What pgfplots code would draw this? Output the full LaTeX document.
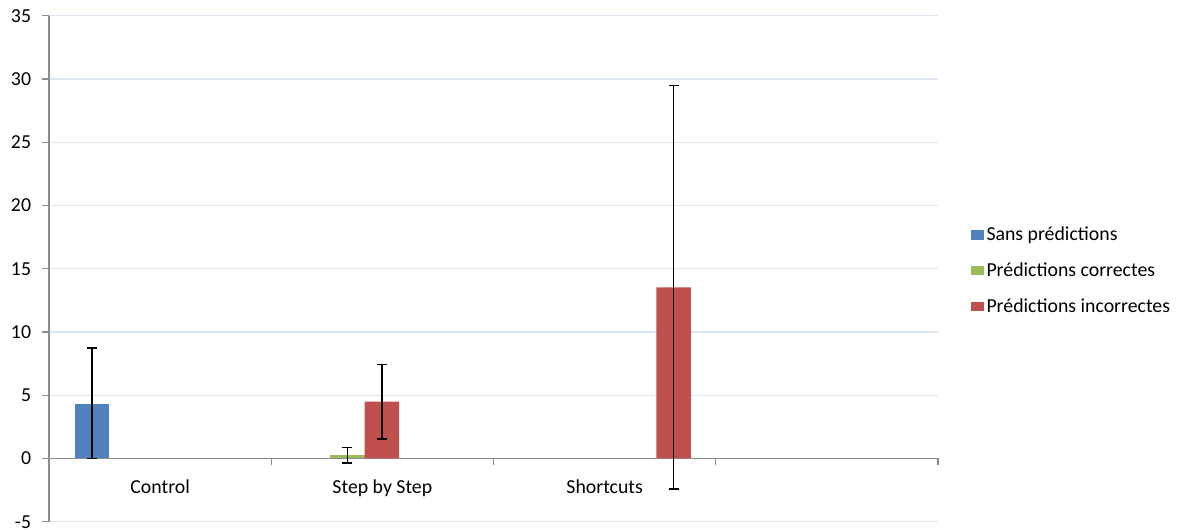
\documentclass[border=0pt]{standalone}
\usepackage{fontspec}
\setmainfont{Carlito}
\usepackage{pgfplots}
\pgfplotsset{compat=1.18}
\definecolor{cblue}{HTML}{4F81BD}
\definecolor{cgreen}{HTML}{9BBB59}
\definecolor{cred}{HTML}{C0504D}
\definecolor{cgrid}{HTML}{DCE6F2}
\definecolor{caxis}{HTML}{8C8C8C}
\begin{document}
\begin{tikzpicture}
\useasboundingbox (-36.75pt,-6.2pt) rectangle (848.25pt,391.3pt);
\begin{axis}[
  at={(0pt,0pt)}, anchor=south west,
  scale only axis,
  width=666.75pt, height=379.5pt,
  font=\fontsize{14.85pt}{18pt}\selectfont,
  /pgf/number format/assume math mode=true,
  xmin=0.5, xmax=4.5,
  ymin=-5, ymax=35,
  ytick={-5,0,5,10,15,20,25,30,35},
  axis y line*=left,
  axis x line*=middle,
  axis line style={-, draw=caxis, line width=0.9pt},
  ymajorgrids,
  grid style={cgrid, line width=0.9pt},
  y tick style={draw=caxis, line width=0.9pt},
  tick align=outside,
  major tick length=5.25pt,
  yticklabel style={anchor=east, inner sep=0pt, xshift=-8pt},
  xtick={1.5,2.5,3.5,4.5},
  xticklabels={},
  x tick style={draw=caxis, line width=0.9pt},
  extra x ticks={1,2,3},
  extra x tick labels={Control,Step by Step,Shortcuts},
  extra x tick style={major tick length=0pt, xticklabel style={anchor=base, inner sep=0pt, yshift=-25.9pt}},
  ybar, bar width=25.9pt, bar shift=0pt,
  error bars/y dir=both,
  error bars/y explicit,
  error bars/error bar style={black, line width=1.1pt},
  error bars/error mark options={black, line width=1.1pt, mark size=3.75pt, rotate=90},
  legend style={at={(1.037,0.496)}, anchor=west, draw=none, fill=none,
    inner sep=0pt, row sep=11pt, font=\fontsize{14.85pt}{18pt}\selectfont,
    /tikz/every even column/.append style={column sep=2.5pt}},
  legend cell align=left,
  legend image code/.code={\path[#1, draw=none] (0pt,-3.4pt) rectangle (9.5pt,3.4pt);},
]
\addplot[fill=cblue, draw=none] coordinates {(0.6935,4.3) += (0,4.43) -= (0,4.3)};
\addlegendentry{Sans prédictions}
\addplot[fill=cgreen, draw=none] coordinates {(1.843,0.26) +- (0,0.62)};
\addlegendentry{Prédictions correctes}
\addplot[fill=cred, draw=none] coordinates {(1.998,4.5) +- (0,2.95) (3.310,13.52) +- (0,15.95)};
\addlegendentry{Prédictions incorrectes}
\end{axis}
\end{tikzpicture}
\end{document}
